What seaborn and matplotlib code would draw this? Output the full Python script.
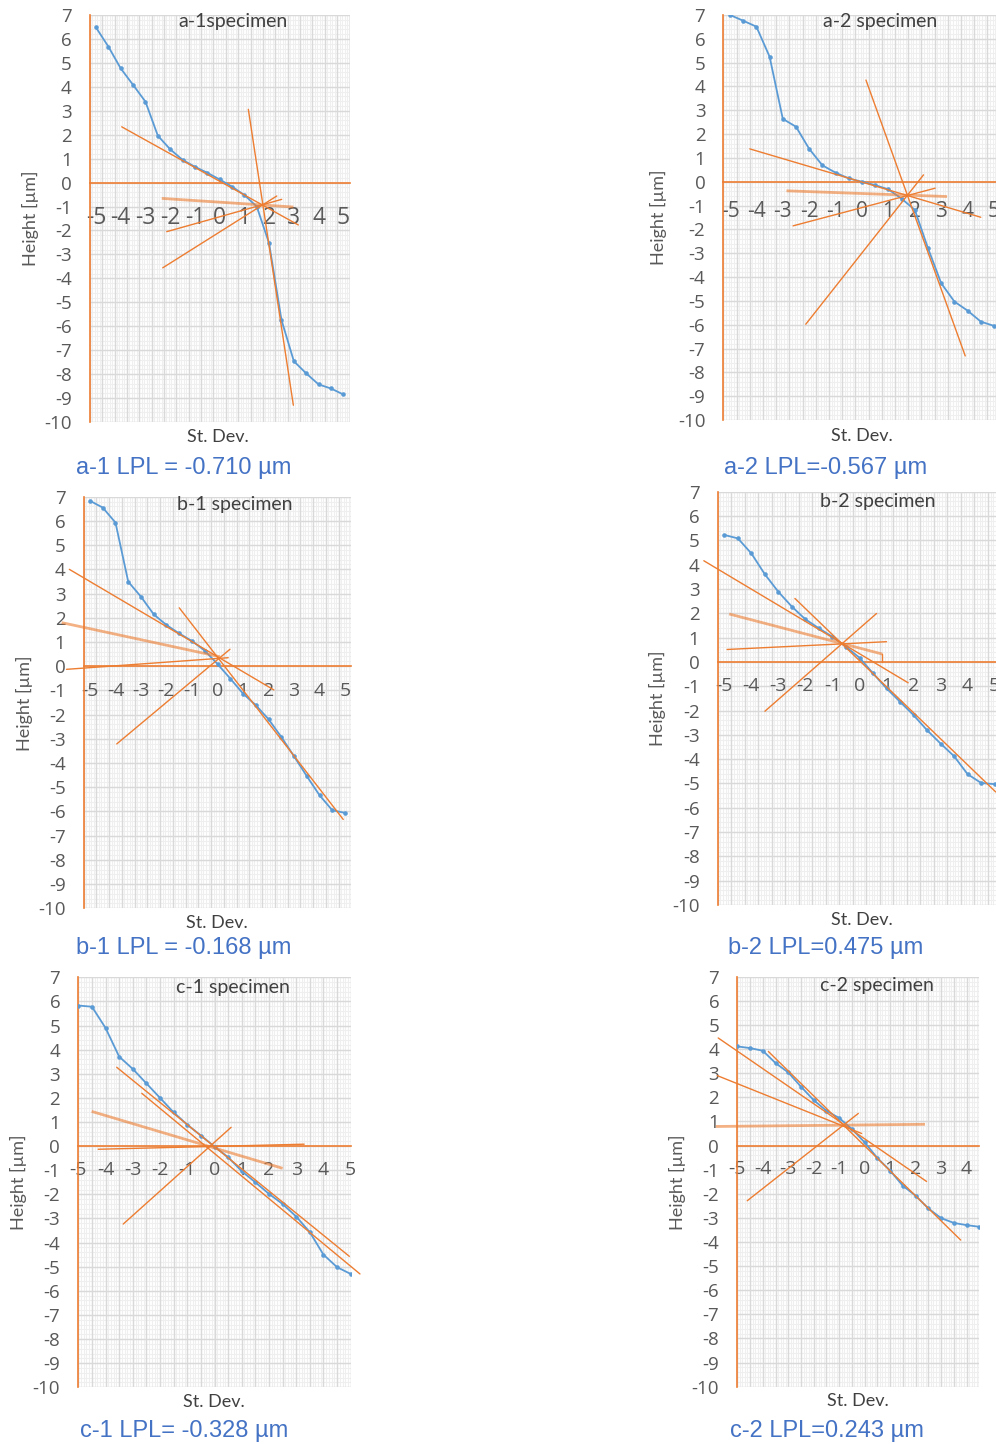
import numpy as np
import pandas as pd
import matplotlib
matplotlib.use("Agg")
import matplotlib.pyplot as plt
import seaborn as sns
from matplotlib.ticker import FixedLocator

# ---------------- data ----------------
st_dev = [-5, -4.5, -4, -3.5, -3, -2.5, -2, -1.5, -1, -0.5, 0,
          0.5, 1, 1.5, 2, 2.5, 3, 3.5, 4, 4.5, 5]
st_dev_c2 = [-5, -4.5, -4, -3.5, -3, -2.5, -2, -1.5, -1, -0.5, 0,
             0.5, 1, 1.5, 2, 2.5, 3, 3.5, 4, 4.5]

a1_height = [6.48, 5.68, 4.77, 4.08, 3.38, 1.96, 1.39, 0.95, 0.66, 0.41, 0.13,
             -0.17, -0.52, -1.00, -2.54, -5.74, -7.46, -7.97, -8.43, -8.60, -8.85]
a2_height = [7.00, 6.76, 6.51, 5.25, 2.64, 2.31, 1.38, 0.69, 0.38, 0.14, 0.00,
             -0.14, -0.32, -0.71, -1.18, -2.79, -4.26, -5.03, -5.41, -5.87, -6.05]
b1_height = [6.83, 6.55, 5.93, 3.49, 2.87, 2.14, 1.70, 1.35, 1.04, 0.64, 0.09,
             -0.51, -1.13, -1.61, -2.19, -2.92, -3.72, -4.54, -5.33, -5.95, -6.06]
b2_height = [5.22, 5.08, 4.46, 3.60, 2.88, 2.27, 1.75, 1.38, 1.03, 0.62, 0.17,
             -0.47, -1.09, -1.64, -2.19, -2.81, -3.36, -3.88, -4.62, -4.98, -5.03]
c1_height = [5.83, 5.78, 4.90, 3.71, 3.20, 2.60, 2.00, 1.40, 0.89, 0.44, -0.02,
             -0.46, -1.04, -1.50, -1.98, -2.40, -2.92, -3.57, -4.50, -5.02, -5.30]
c2_height = [4.11, 4.04, 3.93, 3.42, 3.03, 2.44, 1.88, 1.44, 1.14, 0.68, 0.13,
             -0.52, -1.04, -1.67, -2.08, -2.61, -3.01, -3.21, -3.30, -3.37]

# tangent lines: (x0, y0, x1, y1)
a1_tangents = [(-3.96, 2.33, 3.18, -1.77), (1.16, 3.06, 2.98, -9.30),
               (-2.34, -0.66, 2.98, -1.02), (-2.14, -2.05, 2.51, -0.70),
               (-2.30, -3.56, 2.31, -0.56)]
a2_tangents = [(-4.25, 1.38, 4.50, -1.49), (0.15, 4.27, 3.91, -7.31),
               (-2.86, -0.38, 3.22, -0.62), (-2.61, -1.85, 2.77, -0.27),
               (-2.13, -5.98, 2.33, 0.29)]
b1_tangents = [(-5.81, 4.00, 2.21, -0.98), (-1.50, 2.41, 4.93, -6.33),
               (-6.11, 1.80, 0.10, 0.39), (-5.92, -0.13, 0.42, 0.35),
               (-3.95, -3.21, 0.49, 0.70)]
b2_tangents = [(-5.76, 4.16, 1.80, -0.86), (-2.39, 2.61, 5.04, -5.35),
               (-4.82, 1.97, 0.85, 0.32), (-4.90, 0.51, 1.00, 0.83),
               (-3.50, -2.03, 0.63, 1.99), (0.85, 0.32, 0.85, 0.00)]
c1_tangents = [(-3.59, 3.27, 4.95, -4.57), (-2.67, 2.19, 5.34, -5.30),
               (-4.51, 1.44, 2.50, -0.92), (-4.27, -0.13, 3.29, 0.08),
               (-3.35, -3.23, 0.61, 0.78)]
c2_tangents = [(-5.75, 4.46, 2.43, -1.49), (-3.78, 3.90, 3.77, -3.92),
               (-5.79, 2.90, -0.12, 0.50), (-5.84, 0.79, 2.37, 0.88),
               (-4.61, -2.29, -0.25, 1.33)]

titles = ["a-1specimen", "a-2 specimen", "b-1 specimen",
          "b-2 specimen", "c-1 specimen", "c-2 specimen"]
captions = ["a-1 LPL = -0.710 µm", "a-2 LPL=-0.567 µm", "b-1 LPL = -0.168 µm",
            "b-2 LPL=0.475 µm", "c-1 LPL= -0.328 µm", "c-2 LPL=0.243 µm"]
y_ticks = list(range(-10, 8))

# ---------------- style ----------------
sns.set_style("white")
plt.rcParams["font.family"] = ["Open Sans", "DejaVu Sans"]

W, H = 996, 1444
fig = plt.figure(figsize=(W / 100, H / 100), dpi=100)

ORANGE = "#ed7d31"
BLUE = "#5b9bd5"
CAP = "#4472c4"
GRAY = "#595959"
DARK = "#404040"

panels = [
    dict(x=st_dev, y=a1_height, lines=a1_tangents, thick=2, box=(89.8, 15, 349.5, 422),
         xlim=(-5.25, 5.25), tdir="out", xfs=16.5, xpad=17,
         title=(233, 22), xlab=(218, 437), ylab=(30, 218), cap=(184, 468)),
    dict(x=st_dev, y=a2_height, lines=a2_tangents, thick=2, box=(723.4, 15, 1000.6, 420),
         xlim=(-5.25, 5.25), tdir="inout", xfs=15, xpad=13.5,
         title=(880, 21), xlab=(862, 436), ylab=(658, 217), cap=(826, 468)),
    dict(x=st_dev, y=b1_height, lines=b1_tangents, thick=2, box=(83.6, 496.7, 351.4, 908.3),
         xlim=(-5.25, 5.25), tdir="inout", xfs=14, xpad=11.5,
         title=(235, 505), xlab=(217, 923), ylab=(24, 703), cap=(184, 948)),
    dict(x=st_dev, y=b2_height, lines=b2_tangents, thick=2, box=(717.6, 491.7, 1001.4, 905),
         xlim=(-5.25, 5.25), tdir="inout", xfs=14, xpad=11,
         title=(878, 501), xlab=(862, 920), ylab=(657, 698), cap=(826, 948)),
    dict(x=st_dev, y=c1_height, lines=c1_tangents, thick=2, box=(78.3, 977.3, 350.7, 1387.3),
         xlim=(-5.0, 5.0), tdir="inout", xfs=14, xpad=11,
         title=(233, 987), xlab=(214, 1402), ylab=(18, 1182), cap=(184, 1431)),
    dict(x=st_dev_c2, y=c2_height, lines=c2_tangents, thick=3, box=(737.3, 976.7, 979.3, 1386.7),
         xlim=(-5.0, 4.5), tdir="inout", xfs=14, xpad=10.5,
         title=(877, 986), xlab=(858, 1401), ylab=(677, 1182), cap=(827, 1431)),
]


def fxy(px, py):
    return px / W, 1 - py / H


for i, p in enumerate(panels):
    l, t, r, b = p["box"]
    ax = fig.add_axes([l / W, 1 - b / H, (r - l) / W, (b - t) / H])
    ax.set_facecolor("white")
    x0, x1 = p["xlim"]

    # grid
    for xv in np.arange(x0, x1 + 1e-9, 0.1):
        ax.axvline(xv, color="#efefef", lw=0.8, zorder=0)
    for yv in np.arange(-10, 7 + 1e-9, 0.2):
        ax.axhline(yv, color="#efefef", lw=0.8, zorder=0)
    major_x = np.arange(x0, x1 + 1e-9, 0.5)
    for xv in major_x:
        ax.axvline(xv, color="#d9d9d9", lw=1.0, zorder=0.5)
    for yv in y_ticks:
        ax.axhline(yv, color="#d9d9d9", lw=1.0, zorder=0.5)

    # data
    df = pd.DataFrame({"sd": p["x"], "h": p["y"]})
    sns.lineplot(data=df, x="sd", y="h", ax=ax, color=BLUE, lw=1.3, marker="o",
                 markersize=3.3, markeredgewidth=0, sort=False, zorder=3)

    # tangent lines
    for k, (ax0, ay0, ax1, ay1) in enumerate(p["lines"]):
        if k == p["thick"]:
            ax.plot([ax0, ax1], [ay0, ay1], color=ORANGE, lw=2.0, alpha=0.6,
                    clip_on=False, zorder=4, solid_capstyle="butt")
        else:
            ax.plot([ax0, ax1], [ay0, ay1], color=ORANGE, lw=1.0,
                    clip_on=False, zorder=4)

    ax.set_xlim(x0, x1)
    ax.set_ylim(-10, 7)
    ax.set_xlabel("")
    ax.set_ylabel("")

    for s in ("top", "right"):
        ax.spines[s].set_visible(False)
    ax.spines["left"].set_color(ORANGE)
    ax.spines["left"].set_linewidth(1.2)
    ax.spines["bottom"].set_position(("data", 0))
    ax.spines["bottom"].set_color(ORANGE)
    ax.spines["bottom"].set_linewidth(1.2)
    ax.spines["bottom"].set_zorder(2)
    ax.spines["left"].set_zorder(2)

    labels_x = [v for v in p["x"] if float(v).is_integer()]
    ax.set_xticks(labels_x)
    ax.set_xticklabels([f"{int(v)}" for v in labels_x])
    ax.tick_params(axis="x", which="major", length=0, pad=p["xpad"],
                   labelsize=p["xfs"], labelcolor=GRAY)
    ax.xaxis.set_minor_locator(FixedLocator(major_x))
    ax.tick_params(axis="x", which="minor", length=7 if p["tdir"] == "out" else 10,
                   width=1.0, color=ORANGE, direction=p["tdir"])

    ax.set_yticks(y_ticks)
    ax.set_yticklabels([str(v) for v in y_ticks])
    ax.tick_params(axis="y", which="major", length=10, width=1.0, color=ORANGE,
                   direction="inout", pad=8, labelsize=13.5, labelcolor=GRAY)

    # texts
    fig.text(*fxy(*p["title"]), titles[i], ha="center", va="center",
             fontsize=14, color=DARK, family=["Lato", "DejaVu Sans"])
    fig.text(*fxy(*p["xlab"]), "St. Dev.", ha="center", va="center",
             fontsize=13, color=DARK, family=["Lato", "DejaVu Sans"])
    fig.text(*fxy(*p["ylab"]), "Height [µm]", ha="center", va="center", rotation=90,
             fontsize=13, color=GRAY, family=["Lato", "DejaVu Sans"])
    fig.text(*fxy(*p["cap"]), captions[i], ha="center", va="center",
             fontsize=17, color=CAP, family=["Liberation Sans", "DejaVu Sans"])

fig.savefig("out.png", dpi=100, facecolor="white")
